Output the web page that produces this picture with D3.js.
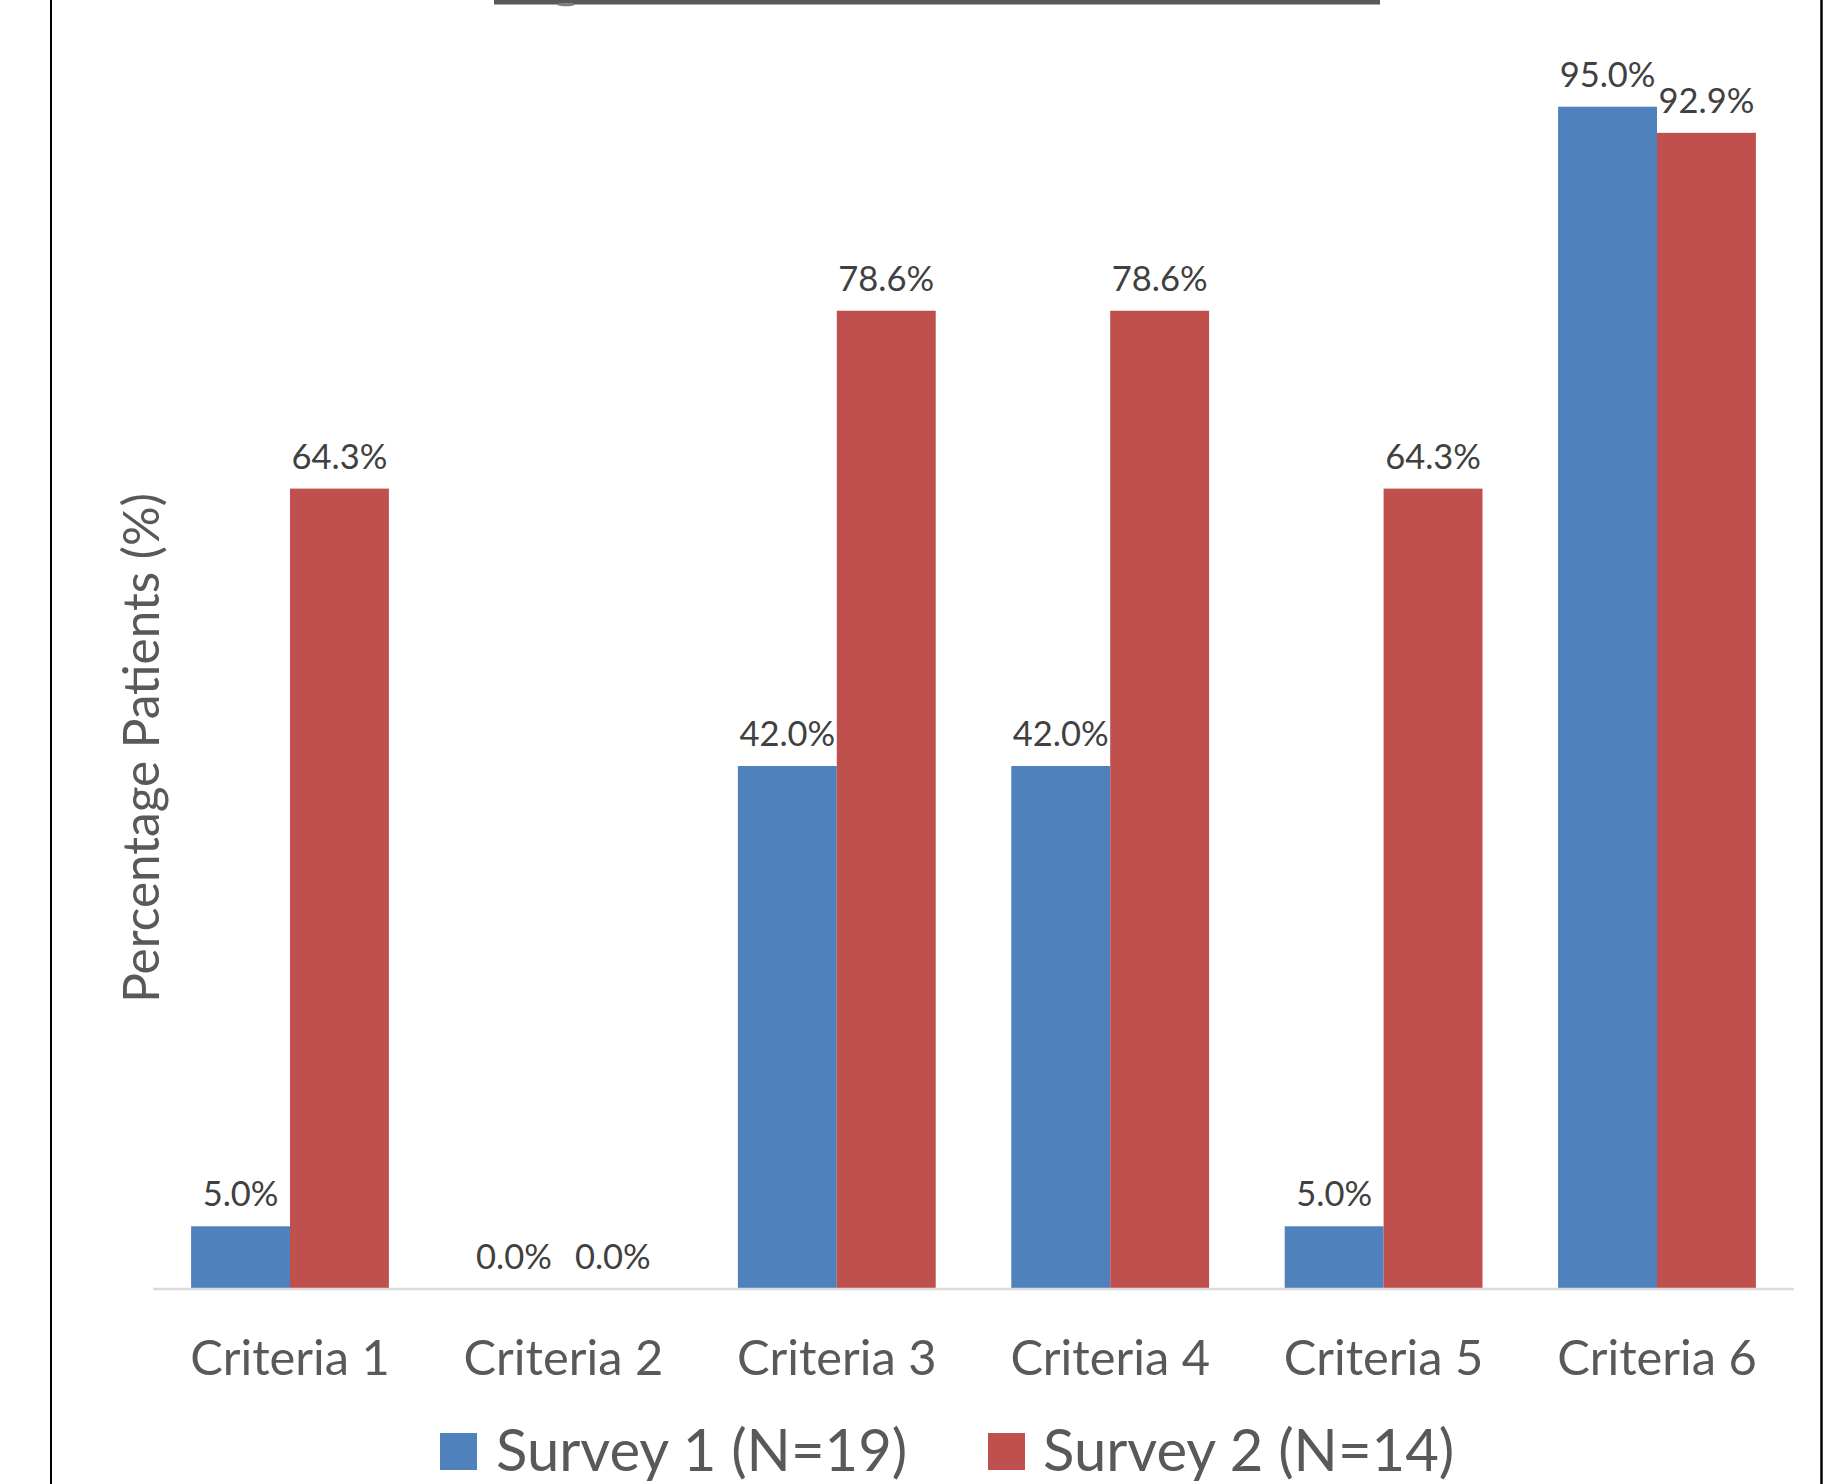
<!DOCTYPE html>
<html>
<head>
<meta charset="utf-8">
<script src="https://cdn.jsdelivr.net/npm/d3@7"></script>
<style>
  html, body { margin: 0; padding: 0; background: #ffffff; }
  svg { display: block; }
  text { font-family: Lato, "Open Sans", sans-serif; }
</style>
</head>
<body>
<svg id="chart" width="1845" height="1484"></svg>
<script>
// Categories and the two survey series (percent of patients meeting each criterion)
const categories = ["Criteria 1", "Criteria 2", "Criteria 3", "Criteria 4", "Criteria 5", "Criteria 6"];
const seriesNames = ["Survey 1 (N=19)", "Survey 2 (N=14)"];
const survey1 = [5.0, 0.0, 42.0, 42.0, 5.0, 95.0];
const survey2 = [64.3, 0.0, 78.6, 78.6, 64.3, 92.9];
const seriesColors = ["#4F81BD", "#C0504D"];
const yAxisTitle = "Percentage Patients (%)";

const seriesValues = [survey1, survey2];
const rows = categories.map((c, i) => ({
  category: c,
  values: seriesNames.map((s, k) => ({ series: s, value: seriesValues[k][i], color: seriesColors[k] }))
}));

const W = 1845, H = 1484;
const plot = { left: 153.3, right: 1793.7, top: 44.5, bottom: 1288.5 };

const svg = d3.select("#chart");

// Outer frame: left and right edges of the chart box
svg.append("line")
  .attr("x1", 51).attr("x2", 51).attr("y1", 0).attr("y2", H)
  .attr("stroke", "#000").attr("stroke-width", 2);
svg.append("line")
  .attr("x1", 1821.5).attr("x2", 1821.5).attr("y1", 0).attr("y2", H)
  .attr("stroke", "#000").attr("stroke-width", 2.5);

// Bottom edge of the title box at the top of the frame
svg.append("rect")
  .attr("x", 494).attr("y", 0).attr("width", 886).attr("height", 4.5)
  .attr("fill", "#595959");
svg.append("ellipse")
  .attr("cx", 566).attr("cy", 4.5).attr("rx", 9).attr("ry", 1.8)
  .attr("fill", "#7f7f7f");

// Scales
const x0 = d3.scaleBand()
  .domain(categories)
  .range([plot.left, plot.right])
  .paddingInner(0.2765)
  .paddingOuter(0.2765 / 2);

const x1 = d3.scaleBand()
  .domain(seriesNames)
  .range([0, x0.bandwidth()])
  .padding(0);

const y = d3.scaleLinear()
  .domain([0, 100])
  .range([plot.bottom, plot.top]);

// Bars
const groups = svg.append("g").attr("class", "bars")
  .selectAll("g")
  .data(rows)
  .join("g")
  .attr("transform", d => `translate(${x0(d.category)},0)`);

groups.selectAll("rect")
  .data(d => d.values)
  .join("rect")
  .attr("x", d => x1(d.series))
  .attr("y", d => y(d.value))
  .attr("width", x1.bandwidth())
  .attr("height", d => y(0) - y(d.value))
  .attr("fill", d => d.color);

// Value labels above each bar
groups.selectAll("text")
  .data(d => d.values)
  .join("text")
  .attr("x", d => x1(d.series) + x1.bandwidth() / 2)
  .attr("y", d => y(d.value) - 20)
  .attr("text-anchor", "middle")
  .attr("font-size", 34.5)
  .attr("fill", "#404040")
  .text(d => d.value.toFixed(1) + "%");

// Category axis
const xAxis = svg.append("g")
  .attr("transform", `translate(0,${plot.bottom})`)
  .call(d3.axisBottom(x0).tickSize(0).tickPadding(0));
xAxis.select(".domain")
  .attr("d", `M${plot.left},0.5H${plot.right}`)
  .attr("stroke", "#D9D9D9")
  .attr("stroke-width", 2.5);
xAxis.selectAll(".tick text")
  .attr("dy", null)
  .attr("y", 86.5)
  .attr("font-family", "Lato, 'Open Sans', sans-serif")
  .attr("font-size", 48.8)
  .attr("fill", "#595959");

// Y axis title
svg.append("text")
  .attr("transform", "translate(158.5,748) rotate(-90)")
  .attr("text-anchor", "middle")
  .attr("font-size", 49.5)
  .attr("fill", "#595959")
  .text(yAxisTitle);

// Legend
const legendPos = [{ sx: 440, tx: 496 }, { sx: 988, tx: 1043 }];
const legend = svg.append("g").attr("class", "legend")
  .selectAll("g")
  .data(seriesNames)
  .join("g");
legend.append("rect")
  .attr("x", (d, i) => legendPos[i].sx)
  .attr("y", 1433)
  .attr("width", 37).attr("height", 37)
  .attr("fill", (d, i) => seriesColors[i]);
legend.append("text")
  .attr("x", (d, i) => legendPos[i].tx)
  .attr("y", 1471)
  .attr("font-size", 58)
  .attr("fill", "#595959")
  .text(d => d);
</script>
</body>
</html>
